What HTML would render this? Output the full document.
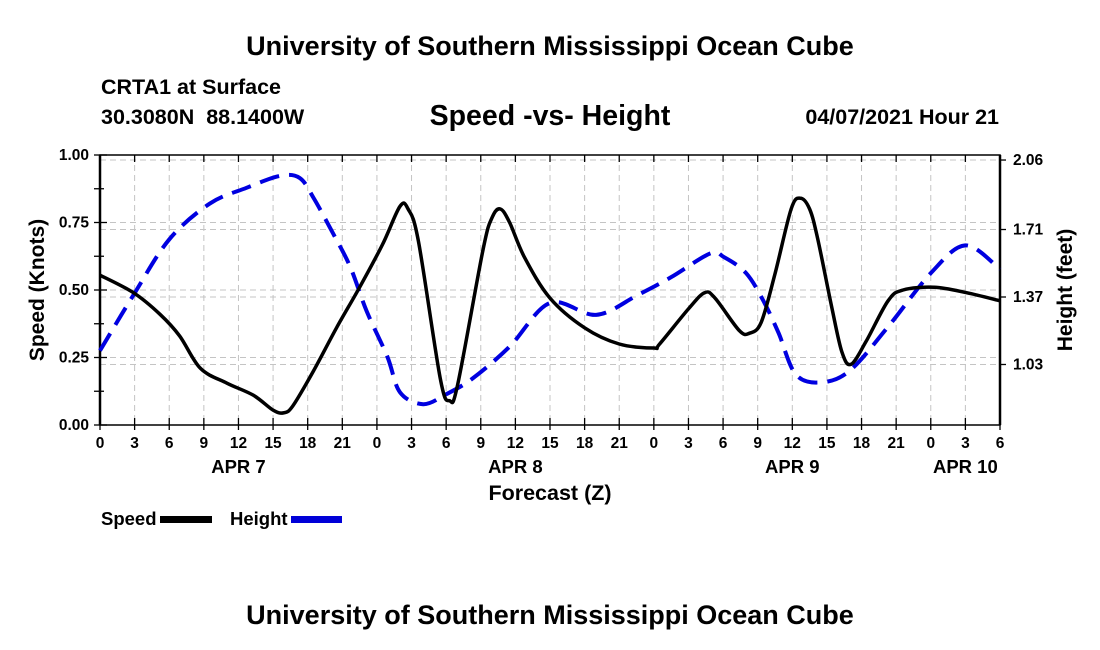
<!DOCTYPE html>
<html><head><meta charset="utf-8"><style>
body{margin:0;background:#fff;}
svg{display:block;font-family:"Liberation Sans",Arial,sans-serif;font-weight:bold;}
</style></head><body>
<svg id="chart" width="1100" height="650" viewBox="0 0 1100 650">
<text x="550" y="55" text-anchor="middle" font-size="27">University of Southern Mississippi Ocean Cube</text>
<text x="101" y="94" font-size="21.5">CRTA1 at Surface</text>
<text x="101" y="124" font-size="21.5" xml:space="preserve">30.3080N  88.1400W</text>
<text x="550" y="125" text-anchor="middle" font-size="28.5">Speed -vs- Height</text>
<text x="999" y="124" text-anchor="end" font-size="21.5">04/07/2021 Hour 21</text>
<g id="grid"></g>
<g id="axes"></g>
<g id="series"></g>
<text x="550" y="500" text-anchor="middle" font-size="21.5">Forecast (Z)</text>
<text transform="translate(44,290) rotate(-90)" text-anchor="middle" font-size="21">Speed (Knots)</text>
<text transform="translate(1072,290) rotate(-90)" text-anchor="middle" font-size="21">Height (feet)</text>
<g>
<text x="101" y="525" font-size="18.5">Speed</text>
<rect x="160" y="516" width="52" height="7" fill="#000"/>
<text x="230" y="525" font-size="18.5">Height</text>
<rect x="291" y="516" width="51" height="7" fill="#0000d8"/>
</g>
<text x="550" y="624" text-anchor="middle" font-size="27">University of Southern Mississippi Ocean Cube</text>
</svg>
<script>
const speedHours=[0,2.9,5.2,6.9,8.7,11,13.3,15,15.9,16.7,18.5,20.5,22.5,24.5,26,26.7,27.6,29.5,30.3,31,33.2,34,34.7,35.5,36.8,39,42,45,48,48.5,51,52.4,53.3,55.4,56.3,57.3,58.5,59.9,60.7,61.5,62.2,63.4,64.3,65.1,66.4,68.3,69.6,72.3,75.1,78];
const speedVals=[0.555,0.49,0.41,0.33,0.21,0.155,0.11,0.055,0.045,0.07,0.20,0.36,0.51,0.67,0.81,0.80,0.68,0.17,0.09,0.15,0.65,0.77,0.80,0.75,0.62,0.47,0.36,0.30,0.285,0.30,0.43,0.49,0.47,0.35,0.34,0.38,0.56,0.80,0.84,0.80,0.69,0.44,0.27,0.225,0.31,0.46,0.50,0.51,0.49,0.46];
const heightHours=[0,2.9,6,9.5,12.7,15.6,17.3,18.5,20.2,21.7,23.1,24.9,26,28,30,32.3,35.5,39,43,46.6,49.5,52.9,54.1,56,57.5,58.8,60.3,62.5,65,68.3,72,75,78];
const heightVals=[1.10,1.38,1.66,1.84,1.92,1.98,1.97,1.87,1.69,1.52,1.30,1.07,0.89,0.83,0.88,0.96,1.12,1.34,1.28,1.38,1.47,1.59,1.57,1.49,1.35,1.19,0.98,0.94,1.00,1.22,1.49,1.63,1.51];
const speedTicks=["0.00","0.25","0.50","0.75","1.00"];
const heightTicks=["1.03","1.37","1.71","2.06"];
const hourLabels=["0","3","6","9","12","15","18","21"];
const dayLabels=["APR 7","APR 8","APR 9","APR 10"];
const dayLabelHours=[12,36,60,75];

const L=100,R=1000,T=155,B=425,NS="http://www.w3.org/2000/svg";
const xS=h=>L+h*(R-L)/78;
const yS=s=>B-s*(B-T);
const yH=h=>297-(h-1.37)*198.5;
function mk(tag,at,parent){const e=document.createElementNS(NS,tag);for(const k in at)e.setAttribute(k,at[k]);parent.appendChild(e);return e;}
const grid=document.getElementById('grid'),axes=document.getElementById('axes'),series=document.getElementById('series');
for(let i=1;i<26;i++){const x=xS(i*3);
 const g=mk('line',{x1:x,x2:x,y1:T,y2:B,stroke:'#c4c4c4','stroke-width':1,'stroke-dasharray':'6,4'},grid);
 
 }
speedTicks.forEach(t=>{const v=parseFloat(t);if(v<=0)return;const y=yS(v);
 const g=mk('line',{x1:L,x2:R,y1:y,y2:y,stroke:'#c4c4c4','stroke-width':1,'stroke-dasharray':'6,4'},grid);
 
 });
heightTicks.forEach(t=>{const y=yH(parseFloat(t));
 const g=mk('line',{x1:L,x2:R,y1:y,y2:y,stroke:'#c4c4c4','stroke-width':1,'stroke-dasharray':'6,4'},grid);
 
 });
mk('rect',{x:L,y:T,width:R-L,height:B-T,fill:'none',stroke:'#000','stroke-width':1.5},axes);
mk('line',{x1:L,x2:L,y1:T,y2:B,stroke:'#000','stroke-width':2.5},axes);
mk('line',{x1:R,x2:R,y1:T,y2:B,stroke:'#000','stroke-width':2.5},axes);
for(let i=0;i<=26;i++){const x=xS(i*3);
 mk('line',{x1:x,x2:x,y1:B-7,y2:B+5,stroke:'#000','stroke-width':1.3},axes);
 mk('line',{x1:x,x2:x,y1:T,y2:T+7,stroke:'#000','stroke-width':1.3},axes);
 const t=mk('text',{x:x,y:B+23,'text-anchor':'middle','font-size':15.5},axes);
 t.textContent=hourLabels[i%8];
 
 }
dayLabels.forEach((d,i)=>{const t=mk('text',{x:xS(dayLabelHours[i]),y:B+48,'text-anchor':'middle','font-size':18.5},axes);
 t.textContent=d;
 
 });
for(let i=0;i<=8;i++){const y=yS(i*0.125);
 mk('line',{x1:L-6,x2:L+(i%2?4:7),y1:y,y2:y,stroke:'#000','stroke-width':1.3},axes);}
speedTicks.forEach(tk=>{const t=mk('text',{x:L-11,y:yS(parseFloat(tk))+5,'text-anchor':'end','font-size':15.5},axes);
 t.textContent=tk;
 
 });
heightTicks.forEach(tk=>{const y=yH(parseFloat(tk));
 mk('line',{x1:R,x2:R+6,y1:y,y2:y,stroke:'#000','stroke-width':1.3},axes);
 const t=mk('text',{x:R+13,y:y+5,'font-size':15.5},axes);
 t.textContent=tk;
 
 });
function path(pts){let d='M'+pts[0][0]+','+pts[0][1];
 for(let i=0;i<pts.length-1;i++){const p0=pts[Math.max(0,i-1)],p1=pts[i],p2=pts[i+1],p3=pts[Math.min(pts.length-1,i+2)];
  const c1=[p1[0]+(p2[0]-p0[0])/6,p1[1]+(p2[1]-p0[1])/6],c2=[p2[0]-(p3[0]-p1[0])/6,p2[1]-(p3[1]-p1[1])/6];
  d+=' C'+c1.join(',')+' '+c2.join(',')+' '+p2.join(',');}
 return d;}
const hp=mk('path',{d:path(heightHours.map((h,i)=>[xS(h),yH(heightVals[i])])),fill:'none',stroke:'#0000e0','stroke-width':4,'stroke-dasharray':'20,10'},series);


const sp=mk('path',{d:path(speedHours.map((h,i)=>[xS(h),yS(speedVals[i])])),fill:'none',stroke:'#000','stroke-width':3.5,'stroke-linejoin':'round'},series);


</script>
</body></html>
